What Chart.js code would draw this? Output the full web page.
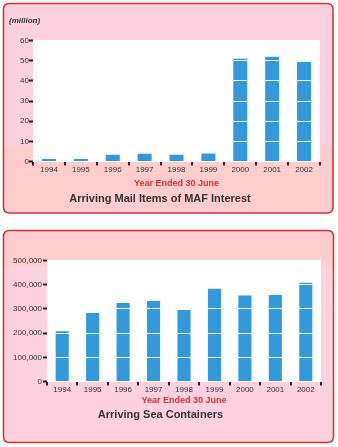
<!DOCTYPE html>
<html>
<head>
<meta charset="utf-8">
<script src="https://cdn.jsdelivr.net/npm/chart.js@4/dist/chart.umd.min.js"></script>
<style>
  html, body { margin: 0; padding: 0; background: #ffffff; }
  #wrap { position: relative; width: 338px; height: 447px; overflow: hidden; }
  canvas { position: absolute; left: 0; }
  #c1 { top: 0; }
  #c2 { top: 222px; }
</style>
</head>
<body>
<div id="wrap">
  <canvas id="c1" width="338" height="222"></canvas>
  <canvas id="c2" width="338" height="225"></canvas>
</div>
<script>
// ---- data ----
const years = ['1994', '1995', '1996', '1997', '1998', '1999', '2000', '2001', '2002'];
const mailItems = [1.2, 1.2, 3.3, 3.9, 3.3, 4.0, 50.9, 51.9, 49.4];          // million
const seaContainers = [208000, 283000, 324000, 333000, 295000, 383000, 355000, 357000, 408000];
const mailTickValues = [0, 10, 20, 30, 40, 50, 60];
const seaTickValues = [0, 100000, 200000, 300000, 400000, 500000];
const mailUnitLabel = '(million)';
const xAxisTitle = 'Year Ended 30 June';
const mailTitle = 'Arriving Mail Items of MAF Interest';
const seaTitle = 'Arriving Sea Containers';

// ---- styling ----
const FONT = "'Liberation Sans', Arial, Helvetica, sans-serif";
const PINK = '#ffd0e0';
const SALMON = '#ffcdcd';
const RED = '#cc3333';
const BAR = '#3399dd';
const TEXT = '#333333';
const TICK = '#222238';

function roundRectPath(ctx, x, y, w, h, r) {
  ctx.beginPath();
  ctx.moveTo(x + r, y);
  ctx.lineTo(x + w - r, y);
  ctx.quadraticCurveTo(x + w, y, x + w, y + r);
  ctx.lineTo(x + w, y + h - r);
  ctx.quadraticCurveTo(x + w, y + h, x + w - r, y + h);
  ctx.lineTo(x + r, y + h);
  ctx.quadraticCurveTo(x, y + h, x, y + h - r);
  ctx.lineTo(x, y + r);
  ctx.quadraticCurveTo(x, y, x + r, y);
  ctx.closePath();
}

function panelPlugin(panel) {
  return {
    id: 'panel',
    beforeDraw(chart) {
      const ctx = chart.ctx;
      const a = chart.chartArea;
      ctx.save();
      roundRectPath(ctx, panel.x, panel.y, panel.w, panel.h, 6);
      ctx.fillStyle = PINK;
      ctx.fill();
      ctx.save();
      ctx.clip();
      ctx.fillStyle = SALMON;
      ctx.fillRect(panel.x, panel.bandTop, panel.w, panel.bandBottom - panel.bandTop);
      ctx.restore();
      ctx.lineWidth = 1.5;
      ctx.strokeStyle = RED;
      roundRectPath(ctx, panel.x, panel.y, panel.w, panel.h, 6);
      ctx.stroke();
      ctx.fillStyle = '#ffffff';
      ctx.fillRect(a.left, a.top, a.right - a.left, a.bottom - a.top);
      if (panel.unit) {
        ctx.fillStyle = TEXT;
        ctx.font = 'italic bold 8px ' + FONT;
        ctx.textBaseline = 'middle';
        ctx.textAlign = 'left';
        ctx.fillText(panel.unit, 9, 20.5);
      }
      ctx.restore();
    }
  };
}

function makeChart(id, values, tickValues, title, opts) {
  return new Chart(document.getElementById(id), {
    type: 'bar',
    data: {
      labels: years,
      datasets: [{
        data: values,
        backgroundColor: BAR,
        borderWidth: 0,
        categoryPercentage: 1.0,
        barPercentage: opts.barPct
      }]
    },
    options: {
      responsive: false,
      animation: false,
      devicePixelRatio: 1,
      layout: { padding: { left: 0, right: opts.padRight, top: opts.padTop, bottom: opts.padBottom } },
      plugins: {
        legend: { display: false },
        tooltip: { enabled: false },
        title: {
          display: true,
          position: 'bottom',
          text: title,
          color: TEXT,
          font: { family: FONT, size: 11, weight: 'bold', lineHeight: 1 },
          padding: { top: opts.titlePadTop, bottom: 0 }
        }
      },
      scales: {
        x: {
          offset: true,
          border: { display: false },
          grid: {
            offset: true,
            drawOnChartArea: false,
            drawTicks: true,
            tickLength: 4,
            tickColor: TICK,
            tickWidth: 2,
            lineWidth: 2
          },
          ticks: {
            color: TEXT,
            padding: 0,
            maxRotation: 0,
            autoSkip: false,
            font: { family: FONT, size: 8, lineHeight: 1 }
          },
          title: {
            display: true,
            text: xAxisTitle,
            color: RED,
            font: { family: FONT, size: 9, weight: 'bold', lineHeight: 1 },
            padding: { top: opts.xTitlePadTop, bottom: 0 }
          }
        },
        y: {
          min: tickValues[0],
          max: tickValues[tickValues.length - 1],
          border: { display: false },
          afterFit(scale) { scale.width = opts.yWidth; },
          afterBuildTicks(scale) { scale.ticks = tickValues.map(v => ({ value: v })); },
          grid: {
            z: 1,
            color: '#ffffff',
            lineWidth: 1,
            drawTicks: true,
            tickLength: 4,
            tickColor: TICK,
            tickWidth: 2
          },
          ticks: {
            color: TEXT,
            padding: opts.yTickPad,
            font: { family: FONT, size: 8, lineHeight: 1 },
            callback: v => Number(v).toLocaleString('en-US')
          }
        }
      }
    },
    plugins: [panelPlugin(opts.panel)]
  });
}

makeChart('c1', mailItems, mailTickValues, mailTitle, {
  barPct: 0.44, padRight: 18, padTop: 40.5, padBottom: 18, titlePadTop: 5,
  xTitlePadTop: 5.5, yWidth: 33, yTickPad: 0,
  panel: { x: 3.5, y: 3.5, w: 329.5, h: 209.5, bandTop: 146, bandBottom: 214, unit: mailUnitLabel }
});

makeChart('c2', seaContainers, seaTickValues, seaTitle, {
  barPct: 0.43, padRight: 17, padTop: 38.5, padBottom: 27, titlePadTop: 3.5,
  xTitlePadTop: 3, yWidth: 47, yTickPad: 1,
  panel: { x: 3.5, y: 8.5, w: 330, h: 212, bandTop: 8, bandBottom: 44, unit: null }
});
</script>
</body>
</html>
